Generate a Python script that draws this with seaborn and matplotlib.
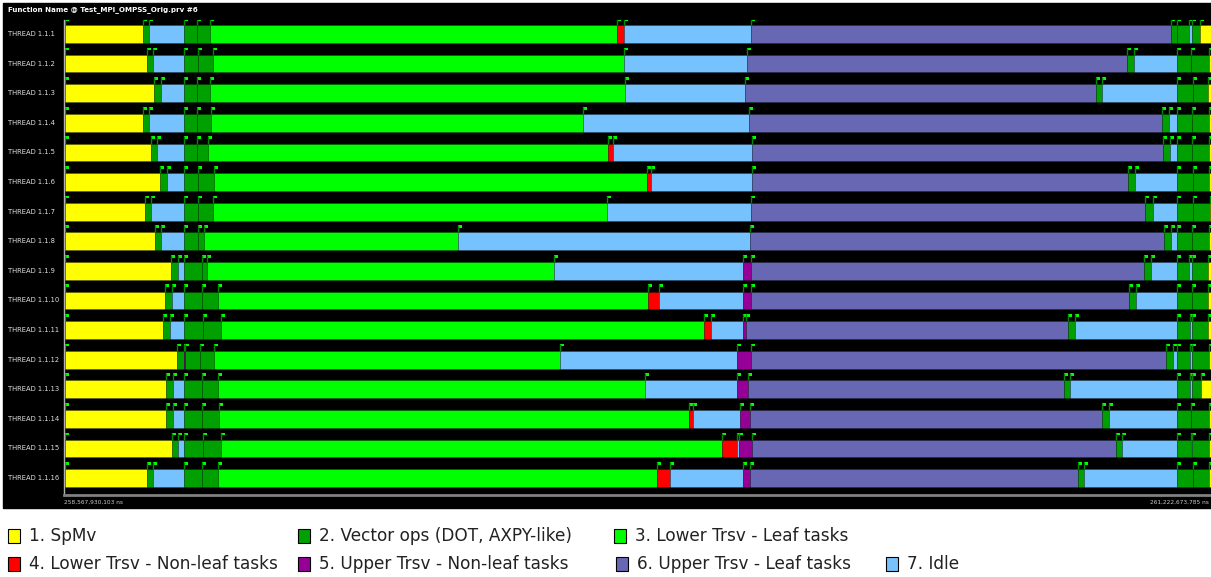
import matplotlib
matplotlib.use("Agg")
import matplotlib.pyplot as plt
from matplotlib.patches import Rectangle
import seaborn as sns

# trace info
title = "Function Name @ Test_MPI_OMPSS_Orig.prv #6"
t_begin_label = "258,567,930,103 ns"
t_end_label = "261,222,673,785 ns"
trace_len = 1146  # ruler units across the window

state_names = ["1. SpMv", "2. Vector ops (DOT, AXPY-like)", "3. Lower Trsv - Leaf tasks",
               "4. Lower Trsv - Non-leaf tasks", "5. Upper Trsv - Non-leaf tasks",
               "6. Upper Trsv - Leaf tasks", "7. Idle"]
state_colors = ["#ffff00", "#00a000", "#00ff00", "#ff0000", "#960096", "#6767b4", "#75c2fe"]

threads = ["THREAD 1.1.%d" % i for i in range(1, 17)]

# (state, end) per thread, start of each one is the end of the previous
segments = [
    [(1, 78), (2, 84), (7, 119), (2, 132), (2, 145), (3, 552), (4, 559), (7, 686), (6, 1106), (2, 1112), (2, 1124), (7, 1127), (2, 1135), (1, 1146)],
    [(1, 82), (2, 88), (7, 119), (2, 133), (2, 148), (3, 559), (7, 682), (6, 1062), (2, 1069), (7, 1112), (2, 1126), (2, 1144), (1, 1146)],
    [(1, 89), (2, 96), (7, 119), (2, 132), (2, 145), (3, 560), (7, 680), (6, 1031), (2, 1037), (7, 1112), (2, 1128), (2, 1143), (1, 1146)],
    [(1, 78), (2, 84), (7, 119), (2, 132), (2, 146), (3, 518), (7, 684), (6, 1097), (2, 1104), (7, 1112), (2, 1127), (2, 1144), (1, 1146)],
    [(1, 86), (2, 92), (7, 119), (2, 132), (2, 143), (3, 543), (4, 548), (7, 687), (6, 1098), (2, 1105), (7, 1112), (2, 1127), (2, 1144), (1, 1146)],
    [(1, 95), (2, 102), (7, 119), (2, 133), (2, 149), (3, 582), (4, 586), (7, 687), (6, 1063), (2, 1070), (7, 1112), (2, 1128), (2, 1144), (1, 1146)],
    [(1, 80), (2, 86), (7, 119), (2, 133), (2, 148), (3, 542), (7, 686), (6, 1080), (2, 1088), (7, 1112), (2, 1128), (2, 1145), (1, 1146)],
    [(1, 90), (2, 96), (7, 119), (2, 133), (2, 139), (3, 393), (7, 685), (6, 1099), (2, 1106), (7, 1112), (2, 1127), (2, 1144), (1, 1146)],
    [(1, 106), (2, 113), (7, 119), (2, 137), (2, 142), (3, 489), (7, 678), (5, 686), (6, 1079), (2, 1086), (7, 1112), (2, 1124), (7, 1127), (2, 1143), (1, 1146)],
    [(1, 100), (2, 107), (7, 119), (2, 137), (2, 153), (3, 583), (4, 594), (7, 678), (5, 686), (6, 1064), (2, 1071), (7, 1112), (2, 1127), (2, 1143), (1, 1146)],
    [(1, 98), (2, 105), (7, 119), (2, 138), (2, 156), (3, 639), (4, 646), (7, 678), (5, 681), (6, 1003), (2, 1010), (7, 1112), (2, 1125), (7, 1127), (2, 1143), (1, 1146)],
    [(1, 112), (2, 119), (5, 120), (2, 135), (2, 149), (3, 495), (7, 672), (5, 686), (6, 1101), (2, 1108), (7, 1112), (2, 1125), (7, 1127), (2, 1144), (1, 1146)],
    [(1, 101), (2, 108), (7, 119), (2, 137), (2, 153), (3, 580), (7, 672), (5, 683), (6, 999), (2, 1005), (7, 1112), (2, 1125), (7, 1127), (2, 1136), (1, 1146)],
    [(1, 101), (2, 108), (7, 119), (2, 137), (2, 154), (3, 624), (4, 628), (7, 675), (5, 685), (6, 1037), (2, 1044), (7, 1112), (2, 1126), (2, 1144), (1, 1146)],
    [(1, 107), (2, 113), (7, 119), (2, 138), (2, 156), (3, 657), (4, 672), (7, 674), (5, 687), (6, 1051), (2, 1057), (7, 1112), (2, 1126), (7, 1127), (2, 1144), (1, 1146)],
    [(1, 82), (2, 88), (7, 119), (2, 137), (2, 153), (3, 592), (4, 605), (7, 678), (5, 685), (6, 1013), (2, 1019), (7, 1112), (2, 1128), (2, 1144), (1, 1146)],
]

sns.set_theme(style="white")
palette = sns.color_palette(state_colors)

W, H = 1211, 577
fig = plt.figure(figsize=(W / 100, H / 100), dpi=100)
fig.patch.set_facecolor("white")
# black paraver window
fig.add_artist(Rectangle((3 / W, 1 - 508 / H), (W - 3) / W, 505 / H,
                         transform=fig.transFigure, color="black", zorder=0))

ax = fig.add_axes([64 / W, 1 - 495 / H, (W - 64) / W, 475 / H])
ax.set_facecolor("black")
bar_h = 0.6
for i, segs in enumerate(segments):
    left = 0
    for st, end in segs:
        ax.barh(i, end - left, left=left, height=bar_h, color=palette[st - 1],
                edgecolor=(0, 0, 0, 0.18), linewidth=0.7)
        # event flag
        ax.plot([left, left], [i - bar_h / 2, i - 0.54], color="#008a00", lw=1, solid_capstyle="butt")
        ax.add_patch(Rectangle((left, i - 0.54), 4, 0.09, color="#00ff00", lw=0))
        left = end

ax.set_xlim(-1, trace_len)
ax.set_ylim(15.57, -0.473)
ax.set_xticks([])
ax.set_yticks([])
for s in ["top", "right"]:
    ax.spines[s].set_visible(False)
ax.spines["left"].set_color("#b0b0b0")
ax.spines["left"].set_linewidth(1)
ax.spines["bottom"].set_color("#808080")
ax.spines["bottom"].set_linewidth(2)

fig.text(8 / W, 1 - 10 / H, title, color="white", fontsize=5.1, fontweight="bold", va="center")
for i, name in enumerate(threads):
    fig.text(8 / W, 1 - (34 + 29.6 * i) / H, name, color="#e0e0e0", fontsize=4.9, va="center")
fig.text(64 / W, 1 - 502 / H, t_begin_label, color="#c8c8c8", fontsize=4.2, va="center")
fig.text(1209 / W, 1 - 502 / H, t_end_label, color="#c8c8c8", fontsize=4.2, va="center", ha="right")

# legend, laid out like the paraver one
legend_pos = [(8, 536), (298, 536), (614, 536), (8, 564), (298, 564), (616, 564), (886, 564)]
for k, (lx, ly) in enumerate(legend_pos):
    fig.add_artist(Rectangle((lx / W, 1 - (ly + 7) / H), 12 / W, 14 / H, transform=fig.transFigure,
                             facecolor=palette[k], edgecolor="black", lw=0.8))
    fig.text((lx + 21) / W, 1 - ly / H, state_names[k], color="#222222", fontsize=12.2, va="center")

fig.savefig("out.png", dpi=100)
